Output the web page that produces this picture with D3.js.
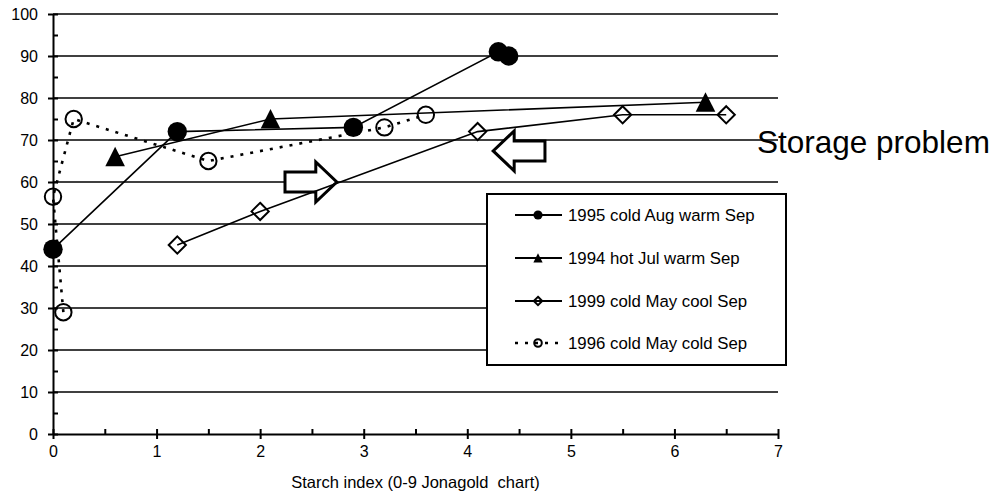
<!DOCTYPE html>
<html>
<head>
<meta charset="utf-8">
<script src="https://cdn.jsdelivr.net/npm/d3@7"></script>
<style>
  html, body { margin: 0; padding: 0; background: #fff; }
  svg { display: block; font-family: "Liberation Sans", Arial, sans-serif; }
  text { white-space: pre; }
</style>
</head>
<body>
<svg id="chart" width="1002" height="504"></svg>
<script>
// Firmness / quality (%) against starch index for four seasons
const seriesNames = [
  "1995 cold Aug warm Sep",
  "1994 hot Jul warm Sep",
  "1999 cold May cool Sep",
  "1996 cold May cold Sep"
];
const s1995x = [0, 1.2, 2.9, 4.3, 4.4];
const s1995y = [44, 72, 73, 91, 90];
const s1994x = [0.6, 2.1, 6.3];
const s1994y = [66, 75, 79];
const s1999x = [1.2, 2.0, 4.1, 5.5, 6.5];
const s1999y = [45, 53, 72, 76, 76];
const s1996x = [0.1, 0, 0.2, 1.5, 3.2, 3.6];
const s1996y = [29, 56.5, 75, 65, 73, 76];

const xTicks = [0, 1, 2, 3, 4, 5, 6, 7];
const yTicks = [0, 10, 20, 30, 40, 50, 60, 70, 80, 90, 100];
const xTitle = "Starch index (0-9 Jonagold  chart)";
const noteText = "Storage problem";

// block arrows: tail x, tip x, centre y (data units)
const arrowTail = [2.24, 4.75];
const arrowTip  = [2.74, 4.25];
const arrowY    = [60, 67.4];

const svg = d3.select("#chart");
const x = d3.scaleLinear().domain([0, 7]).range([53, 778]);
const y = d3.scaleLinear().domain([0, 100]).range([434, 14]);

// horizontal gridlines
svg.append("g")
  .selectAll("line")
  .data(yTicks.filter(v => v > 0))
  .join("line")
  .attr("x1", x(0)).attr("x2", x(7))
  .attr("y1", d => y(d)).attr("y2", d => y(d))
  .attr("stroke", "#000").attr("stroke-width", 1.4);

// block arrows
const arrowPath = (t0, t1, yc) => {
  const xa = x(t0), xb = x(t1), yy = y(yc);
  const dir = Math.sign(xb - xa);
  const headLen = 21, shaft = 10, head = 20;
  const xh = xb - dir * headLen;
  return `M${xa},${yy - shaft}L${xh},${yy - shaft}L${xh},${yy - head}L${xb},${yy}` +
         `L${xh},${yy + head}L${xh},${yy + shaft}L${xa},${yy + shaft}Z`;
};
svg.append("g")
  .selectAll("path")
  .data(arrowTail.map((t, i) => [t, arrowTip[i], arrowY[i]]))
  .join("path")
  .attr("d", d => arrowPath(d[0], d[1], d[2]))
  .attr("fill", "#fff").attr("stroke", "#000")
  .attr("stroke-width", 3).attr("stroke-linejoin", "miter");

// axes
const yAxis = svg.append("g")
  .attr("transform", `translate(${x(0)},0)`)
  .call(d3.axisLeft(y).tickValues(yTicks).tickSize(5).tickPadding(10).tickSizeOuter(0));
yAxis.selectAll(".tick line").attr("x2", 5).attr("x1", -5).attr("stroke-width", 2);
svg.append("g")
  .attr("transform", `translate(${x(0)},0)`)
  .call(d3.axisRight(y).tickValues(d3.range(5, 100, 10)).tickSize(5).tickFormat(""))
  .call(g => g.select(".domain").remove())
  .selectAll(".tick line").attr("stroke-width", 2);

const xAxis = svg.append("g")
  .attr("transform", `translate(0,${y(0)})`)
  .call(d3.axisBottom(x).tickValues(xTicks).tickFormat(d3.format("d"))
    .tickSize(5).tickPadding(7).tickSizeOuter(0));
xAxis.selectAll(".tick line").attr("y1", -5).attr("y2", 5).attr("stroke-width", 2);
svg.append("g")
  .attr("transform", `translate(0,${y(0)})`)
  .call(d3.axisTop(x).tickValues(d3.range(0.5, 7, 1)).tickSize(5).tickFormat(""))
  .call(g => g.select(".domain").remove())
  .selectAll(".tick line").attr("stroke-width", 2);

[yAxis, xAxis].forEach(a => {
  a.select(".domain").attr("stroke-width", 2);
  a.selectAll("text").attr("font-size", 16).attr("fill", "#000")
    .attr("font-family", "Liberation Sans, Arial, sans-serif");
});

svg.append("text")
  .attr("x", x(3.5)).attr("y", 488)
  .attr("text-anchor", "middle").attr("font-size", 16.5)
  .text(xTitle);

// marker shapes
const drawMarker = (g, kind, big) => {
  const k = big ? 1 : 0.47;
  if (kind === "dot") {
    g.append("circle").attr("r", 9.7 * k).attr("fill", "#000");
  } else if (kind === "tri") {
    const h = 10 * k, w = 9.8 * k;
    g.append("path").attr("d", `M0,${-h}L${w},${h * 0.95}L${-w},${h * 0.95}Z`).attr("fill", "#000");
  } else if (kind === "dia") {
    const s = big ? 8.6 : 4.2;
    g.append("path").attr("d", `M0,${-s}L${s},0L0,${s}L${-s},0Z`)
      .attr("fill", "none").attr("stroke", "#000").attr("stroke-width", 2);
  } else {
    g.append("circle").attr("r", big ? 8.2 : 3.8)
      .attr("fill", "none").attr("stroke", "#000").attr("stroke-width", 2);
  }
};

const series = [
  { name: seriesNames[0], xs: s1995x, ys: s1995y, kind: "dot", dash: null },
  { name: seriesNames[1], xs: s1994x, ys: s1994y, kind: "tri", dash: null },
  { name: seriesNames[2], xs: s1999x, ys: s1999y, kind: "dia", dash: null },
  { name: seriesNames[3], xs: s1996x, ys: s1996y, kind: "circ", dash: "3,7" }
];

const line = d3.line().x(d => x(d[0])).y(d => y(d[1]));
series.forEach(s => {
  const pts = s.xs.map((v, i) => [v, s.ys[i]]);
  svg.append("path")
    .attr("d", line(pts))
    .attr("fill", "none").attr("stroke", "#000")
    .attr("stroke-width", s.dash ? 2.6 : 1.6)
    .attr("stroke-dasharray", s.dash);
  pts.forEach(p => {
    const g = svg.append("g").attr("transform", `translate(${x(p[0])},${y(p[1])})`);
    drawMarker(g, s.kind, true);
  });
});

// annotation
svg.append("text")
  .attr("x", 757).attr("y", 153)
  .attr("font-size", 31.5)
  .text(noteText);

// legend
const lg = svg.append("g");
lg.append("rect")
  .attr("x", 487).attr("y", 194).attr("width", 299).attr("height", 171)
  .attr("fill", "#fff").attr("stroke", "#000").attr("stroke-width", 2);
const rowY = [215, 258, 301, 343];
series.forEach((s, i) => {
  const yy = rowY[i];
  lg.append("line")
    .attr("x1", 515).attr("x2", 562).attr("y1", yy).attr("y2", yy)
    .attr("stroke", "#000").attr("stroke-width", s.dash ? 2.6 : 2)
    .attr("stroke-dasharray", s.dash);
  const g = lg.append("g").attr("transform", `translate(538,${yy})`);
  drawMarker(g, s.kind, false);
  lg.append("text")
    .attr("x", 568).attr("y", yy + 6)
    .attr("font-size", 16.8)
    .text(s.name);
});
</script>
</body>
</html>
